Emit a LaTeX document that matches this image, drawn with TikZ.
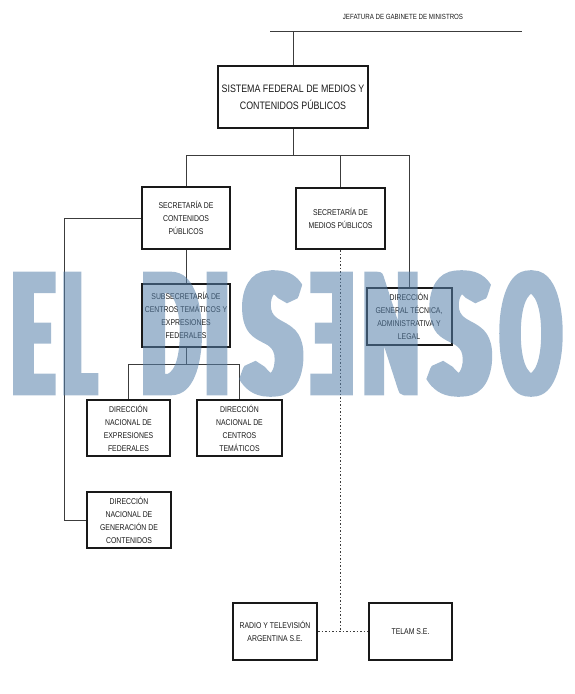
\documentclass[tikz,border=0pt]{standalone}
\usepackage{fontspec}
\usepackage{graphicx}
\setmainfont{Liberation Sans}[FakeStretch=0.82]
\newfontfamily\wmfont{Lato Bold}[FakeStretch=0.137, FakeBold=2.3]

\definecolor{wmblue}{RGB}{86,128,170}
\definecolor{ink}{RGB}{25,25,25}
\tikzset{
  unit/.style={draw=ink, line width=2pt, align=center, inner sep=0pt, text=ink,
    font=\fontsize{8.4}{13}\selectfont},
  link/.style={draw=ink!85, line width=0.6pt},
  dotlink/.style={link, dash pattern=on 1.5pt off 2pt},
  wm/.style={anchor=base, inner sep=0pt, text=wmblue}
}
% letra de la marca de agua: centro x, ancho relativo, letra
\newcommand{\wmletter}[3]{\node[wm] at (#1,393.5) {\scalebox{#2}[1]{\fontsize{166}{166}\wmfont #3}};}

\begin{document}
\begin{tikzpicture}[x=1pt,y=-1pt]
    \useasboundingbox (0,0) rectangle (574,694);
    % cabecera
    \node[text=ink, font=\fontsize{7.5}{9}\selectfont] (jgm) at (403,17) {JEFATURA DE GABINETE DE MINISTROS};
    \coordinate (hl) at (270,31);
    \coordinate (hr) at (522,31);
    \draw[link] (hl) -- (hr);
    % unidades
    \node[unit, minimum width=150pt, minimum height=62pt, font=\fontsize{10.8}{17}\selectfont] (sf) at (293,97) {SISTEMA FEDERAL DE MEDIOS Y\\CONTENIDOS PÚBLICOS};
    \node[unit, minimum width=88pt, minimum height=62pt] (sc) at (186,218) {SECRETARÍA DE\\CONTENIDOS\\PÚBLICOS};
    \node[unit, minimum width=89pt, minimum height=61pt] (smp) at (340.5,218.5) {SECRETARÍA DE\\MEDIOS PÚBLICOS};
    \node[unit, minimum width=88pt, minimum height=63pt] (sub) at (186,315.5) {SUBSECRETARÍA DE\\CENTROS TEMÁTICOS Y\\EXPRESIONES\\FEDERALES};
    \node[unit, minimum width=85pt, minimum height=57pt] (dg) at (409,316.5) {DIRECCIÓN\\GENERAL TÉCNICA,\\ADMINISTRATIVA Y\\LEGAL};
    \node[unit, minimum width=83pt, minimum height=56pt] (dne) at (128.5,428) {DIRECCIÓN\\NACIONAL DE\\EXPRESIONES\\FEDERALES};
    \node[unit, minimum width=85pt, minimum height=56pt] (dnc) at (239.5,428) {DIRECCIÓN\\NACIONAL DE\\CENTROS\\TEMÁTICOS};
    \node[unit, minimum width=84pt, minimum height=56pt] (dng) at (129,520) {DIRECCIÓN\\NACIONAL DE\\GENERACIÓN DE\\CONTENIDOS};
    \node[unit, minimum width=84pt, minimum height=57pt] (rta) at (275,631.5) {RADIO Y TELEVISIÓN\\ARGENTINA S.E.};
    \node[unit, minimum width=83pt, minimum height=57pt] (telam) at (410.5,631.5) {TELAM S.E.};
    % conexiones
    \coordinate (bus) at (293,155);
    \coordinate (sbus) at (186,364);
    \coordinate (lft) at (64,218);
    \coordinate (tv) at (340.5,631.5);
    \draw[link] (sf.north |- hl) -- (sf.north);
    \draw[link] (sf.south) -- (bus);
    \draw[link] (sc.north) -- (sc.north |- bus) -- (dg.north |- bus) -- (dg.north);
    \draw[link] (smp.north |- bus) -- (smp.north);
    \draw[link] (sc.south) -- (sub.north);
    \draw[link] (sub.south) -- (sbus);
    \draw[link] (dne.north) -- (dne.north |- sbus) -- (dnc.north |- sbus) -- (dnc.north);
    \draw[link] (sc.west) -- (lft) -- (lft |- dng.west) -- (dng.west);
    \draw[dotlink] (smp.south) -- (tv);
    \draw[dotlink] (rta.east) -- (telam.west);
    % marca de agua
    \begin{scope}[transparency group, opacity=0.55]
    \wmletter{33}{3}{E}
    \wmletter{79}{2.6}{L}
    \wmletter{171}{3.2}{D}
    \wmletter{217}{3}{I}
    \wmletter{272}{4.3}{S}
    \wmletter{333}{3}{\reflectbox{E}}
    \wmletter{391}{3}{N}
    \wmletter{460}{4.4}{S}
    \wmletter{531}{3.1}{O}
    \end{scope}
\end{tikzpicture}
\end{document}
